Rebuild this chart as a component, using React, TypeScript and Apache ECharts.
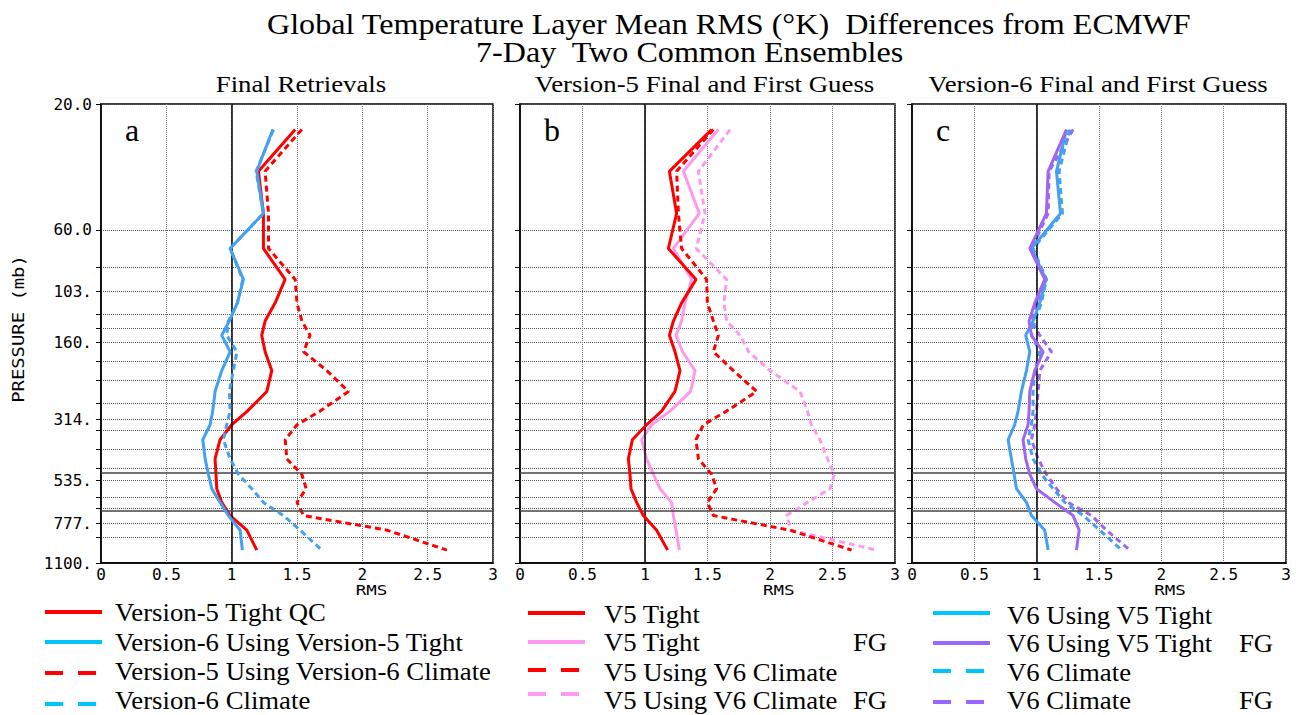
import React, { useEffect, useRef } from "react";
import * as echarts from "echarts";

// Pressure (mb) at the middle of each layer
const levels = [25, 36, 52, 70.6, 92.5, 113.5, 133, 150.7, 174, 205, 246, 292, 329, 375, 443, 507, 575, 648, 727, 826, 983];
// Layer boundaries drawn as dotted grid lines
const gridLevels = [20, 60, 83, 103, 125, 142, 160, 189, 223, 272, 314, 344, 409, 480, 535, 618, 680, 777, 879, 1100];
const labelLevels = [20, 60, 103, 160, 314, 535, 777, 1100];
const labelTexts = ["20.0", "60.0", "103.", "160.", "314.", "535.", "777.", "1100."];
const solidLevels = [500, 700];

// Panel a: Final Retrievals
const aV5Tight = [1.486, 1.205, 1.243, 1.243, 1.409, 1.333, 1.256, 1.23, 1.256, 1.307, 1.269, 1.12, 1.0, 0.911, 0.873, 0.88, 0.886, 0.924, 0.988, 1.116, 1.192];
const aV6Tight = [1.315, 1.192, 1.243, 0.988, 1.09, 1.044, 0.982, 0.924, 0.988, 0.924, 0.873, 0.855, 0.835, 0.779, 0.797, 0.822, 0.848, 0.911, 0.975, 1.065, 1.082];
const aV5Clim = [1.537, 1.256, 1.282, 1.282, 1.486, 1.5, 1.537, 1.6, 1.55, 1.728, 1.894, 1.677, 1.5, 1.41, 1.422, 1.537, 1.57, 1.5, 1.55, 2.19, 2.647];
const aV6Clim = [1.32, 1.187, 1.243, 0.988, 1.085, 1.044, 0.975, 0.962, 1.04, 1.013, 0.983, 0.988, 0.962, 0.937, 0.988, 1.052, 1.154, 1.243, 1.396, 1.524, 1.69];

// Panel b: Version-5 Final and First Guess
const bV5Tight = [1.533, 1.195, 1.253, 1.187, 1.408, 1.293, 1.227, 1.195, 1.24, 1.28, 1.24, 1.133, 1.013, 0.899, 0.867, 0.88, 0.888, 0.933, 0.987, 1.093, 1.181];
const bV5TightFG = [1.587, 1.307, 1.435, 1.227, 1.373, 1.32, 1.293, 1.248, 1.301, 1.4, 1.365, 1.2, 1.053, 0.973, 1.013, 1.067, 1.12, 1.213, 1.227, 1.248, 1.275];
const bV5Clim = [1.547, 1.253, 1.267, 1.293, 1.493, 1.499, 1.547, 1.587, 1.547, 1.707, 1.893, 1.653, 1.467, 1.408, 1.427, 1.533, 1.573, 1.499, 1.547, 2.16, 2.653];
const bV5ClimFG = [1.68, 1.427, 1.48, 1.41, 1.653, 1.632, 1.653, 1.76, 1.83, 2.0, 2.24, 2.3, 2.33, 2.4, 2.46, 2.515, 2.48, 2.3, 2.133, 2.17, 2.853];

// Panel c: Version-6 Final and First Guess
const cV6Tight = [1.239, 1.159, 1.191, 0.958, 1.073, 1.025, 0.971, 0.912, 0.945, 0.918, 0.878, 0.851, 0.824, 0.771, 0.797, 0.819, 0.838, 0.918, 0.958, 1.065, 1.092];
const cV6TightFG = [1.239, 1.092, 1.078, 0.945, 1.065, 0.985, 0.939, 0.958, 1.052, 0.985, 0.945, 0.939, 0.931, 0.891, 0.912, 0.945, 0.998, 1.145, 1.292, 1.341, 1.319];
const cV6Clim = [1.266, 1.18, 1.207, 0.971, 1.078, 1.038, 0.985, 0.958, 1.025, 0.985, 0.971, 0.971, 0.958, 0.931, 0.971, 1.038, 1.132, 1.226, 1.373, 1.507, 1.681];
const cV6ClimFG = [1.292, 1.1, 1.092, 0.958, 1.078, 0.998, 0.958, 1.025, 1.119, 1.025, 1.012, 0.998, 0.985, 0.958, 1.012, 1.078, 1.159, 1.252, 1.44, 1.56, 1.747];

const panelTitles = ["Final Retrievals", "Version-5 Final and First Guess", "Version-6 Final and First Guess"];
const panelLetters = ["a", "b", "c"];
const titleLine1 = "Global Temperature Layer Mean RMS (°K)  Differences from ECMWF";
const titleLine2 = "7-Day  Two Common Ensembles";
const yAxisName = "PRESSURE (mb)";
const xAxisName = "RMS";

const legendA = [
  { text: "Version-5 Tight QC", fg: "", color: "#ff0000", dashed: false },
  { text: "Version-6 Using Version-5 Tight", fg: "", color: "#00c4ff", dashed: false },
  { text: "Version-5 Using Version-6 Climate", fg: "", color: "#ff0000", dashed: true },
  { text: "Version-6 Climate", fg: "", color: "#00c4ff", dashed: true },
];
const legendB = [
  { text: "V5 Tight", fg: "", color: "#ff0000", dashed: false },
  { text: "V5 Tight", fg: "FG", color: "#ff99f0", dashed: false },
  { text: "V5 Using V6 Climate", fg: "", color: "#ff0000", dashed: true },
  { text: "V5 Using V6 Climate", fg: "FG", color: "#ff99f0", dashed: true },
];
const legendC = [
  { text: "V6 Using V5 Tight", fg: "", color: "#00c4ff", dashed: false },
  { text: "V6 Using V5 Tight", fg: "FG", color: "#9966ff", dashed: false },
  { text: "V6 Climate", fg: "", color: "#00c4ff", dashed: true },
  { text: "V6 Climate", fg: "FG", color: "#9966ff", dashed: true },
];

const RED = "#ff0000";
const BLUE = "#44a0f0";
const PINK = "#ff99ee";
const PURPLE = "#a066f0";

const panelSeries = [
  [
    { name: "Version-5 Tight QC", values: aV5Tight, color: RED, dashed: false },
    { name: "Version-5 Using Version-6 Climate", values: aV5Clim, color: RED, dashed: true },
    { name: "Version-6 Climate", values: aV6Clim, color: BLUE, dashed: true },
    { name: "Version-6 Using Version-5 Tight", values: aV6Tight, color: BLUE, dashed: false },
  ],
  [
    { name: "V5 Using V6 Climate FG", values: bV5ClimFG, color: PINK, dashed: true },
    { name: "V5 Tight FG", values: bV5TightFG, color: PINK, dashed: false },
    { name: "V5 Using V6 Climate", values: bV5Clim, color: RED, dashed: true },
    { name: "V5 Tight", values: bV5Tight, color: RED, dashed: false },
  ],
  [
    { name: "V6 Climate FG", values: cV6ClimFG, color: PURPLE, dashed: true },
    { name: "V6 Climate", values: cV6Clim, color: BLUE, dashed: true },
    { name: "V6 Using V5 Tight", values: cV6Tight, color: BLUE, dashed: false },
    { name: "V6 Using V5 Tight FG", values: cV6TightFG, color: PURPLE, dashed: false },
  ],
];

const grids = [
  { left: 101, top: 104, width: 392, height: 459 },
  { left: 520, top: 104, width: 375, height: 459 },
  { left: 912, top: 104, width: 374, height: 459 },
];
const legends = [
  { items: legendA, lineX: 45, textX: 115, fgX: 0, lineRows: [612, 642, 673, 704], textRows: [613, 643, 672, 701] },
  { items: legendB, lineX: 528, textX: 604, fgX: 853, lineRows: [613, 642, 670, 694], textRows: [615, 643, 673, 701] },
  { items: legendC, lineX: 933, textX: 1007, fgX: 1239, lineRows: [613, 643, 671, 702], textRows: [616, 644, 673, 701] },
];

const SERIF = '"Liberation Serif", "Times New Roman", serif';
const MONO = '"DejaVu Sans Mono", monospace';

function labelFor(v: number): string {
  let best = 0;
  for (let i = 0; i < labelLevels.length; i++) {
    if (Math.abs(labelLevels[i] - v) < Math.abs(labelLevels[best] - v)) best = i;
  }
  return labelTexts[best];
}

export default function App() {
  const ref = useRef<HTMLDivElement>(null);
  useEffect(() => {
    document.body.style.margin = "0";
    if (!ref.current) return;
    const chart = echarts.init(ref.current, undefined, { renderer: "svg" });

    const xAxes = grids.map((_, i) => ({
      type: "value",
      gridIndex: i,
      min: 0,
      max: 3,
      interval: 0.5,
      axisLine: { show: true, lineStyle: { color: "#000", width: 1.5 } },
      axisTick: { show: false },
      axisLabel: { color: "#000", fontFamily: MONO, fontSize: 16, margin: 3 },
      splitLine: { show: true, lineStyle: { type: "dotted", color: "#777", width: 1 } },
    }));

    const yAxes = grids.map((_, i) => ({
      type: "log",
      logBase: 10,
      gridIndex: i,
      min: 20,
      max: 1100,
      inverse: true,
      axisLine: { show: true, lineStyle: { color: "#000", width: 1.5 } },
      axisTick: { show: true, customValues: gridLevels, length: 5, inside: false, lineStyle: { color: "#000", width: 1 } },
      axisLabel: {
        show: i === 0,
        customValues: labelLevels,
        formatter: (v: number) => labelFor(v),
        color: "#000",
        fontFamily: MONO,
        fontSize: 16,
        margin: 9,
      },
      splitLine: { show: true, lineStyle: { type: "dotted", color: "#555", width: 1 } },
    }));

    const series: any[] = [];
    panelSeries.forEach((list, gi) => {
      list.forEach((s, si) => {
        series.push({
          type: "line",
          name: s.name,
          xAxisIndex: gi,
          yAxisIndex: gi,
          data: levels.map((p, k) => [s.values[k], p]),
          symbol: "none",
          lineStyle: { color: s.color, width: 3, type: s.dashed ? [6, 4] : "solid" },
          z: 3 + si,
          markLine:
            si === 0
              ? {
                  silent: true,
                  symbol: ["none", "none"],
                  label: { show: false },
                  lineStyle: { color: "#000", type: "solid", width: 1.5 },
                  data: [
                    { xAxis: 1 },
                    ...solidLevels.map((p) => ({ yAxis: p, lineStyle: { color: "#444", type: "solid", width: 1.5 } })),
                  ],
                }
              : undefined,
        });
      });
    });

    const txt = (text: string, x: number, y: number, size: number, family: string, align: string, sx = 1, extra: any = {}) => ({
      type: "text",
      x,
      y,
      scaleX: sx,
      ...extra,
      style: { text, fontFamily: family, fontSize: size, fill: "#000", textAlign: align, textVerticalAlign: "middle" },
    });

    const graphic: any[] = [];
    graphic.push(txt(titleLine1, 267, 25, 29, SERIF, "left", 1.108));
    graphic.push(txt(titleLine2, 476, 53, 29, SERIF, "left", 1.108));
    graphic.push(txt(yAxisName, 19, 329, 16, MONO, "center", 1.18, { rotation: Math.PI / 2 }));
    grids.forEach((g, i) => {
      graphic.push(txt(panelTitles[i], g.left + g.width / 2 + [4, -3, -1][i], 84, 24, SERIF, "center", 1.117));
      graphic.push(txt(panelLetters[i], g.left + 24, 130, 32, SERIF, "left"));
      graphic.push(txt(xAxisName, g.left + g.width * 0.69, 590, 14, MONO, "center", 1.25));
    });
    legends.forEach((lg) => {
      lg.items.forEach((it, r) => {
        const y = lg.lineRows[r];
        graphic.push({
          type: "line",
          shape: { x1: lg.lineX, y1: y, x2: lg.lineX + 57, y2: y },
          style: { stroke: it.color, lineWidth: 4, lineDash: it.dashed ? [18, 15] : null },
        });
        graphic.push(txt(it.text, lg.textX, lg.textRows[r], 25, SERIF, "left", 1.07));
        if (it.fg) graphic.push(txt(it.fg, lg.fgX, lg.textRows[r], 25, SERIF, "left", 1.07));
      });
    });

    chart.setOption({
      animation: false,
      backgroundColor: "#fff",
      grid: grids.map((g) => ({ ...g, show: true, borderColor: "#000", borderWidth: 1.5, outerBoundsMode: "none" })),
      xAxis: xAxes,
      yAxis: yAxes,
      series,
      graphic,
    });
    return () => chart.dispose();
  }, []);
  return <div ref={ref} style={{ width: 1296, height: 715 }} />;
}
